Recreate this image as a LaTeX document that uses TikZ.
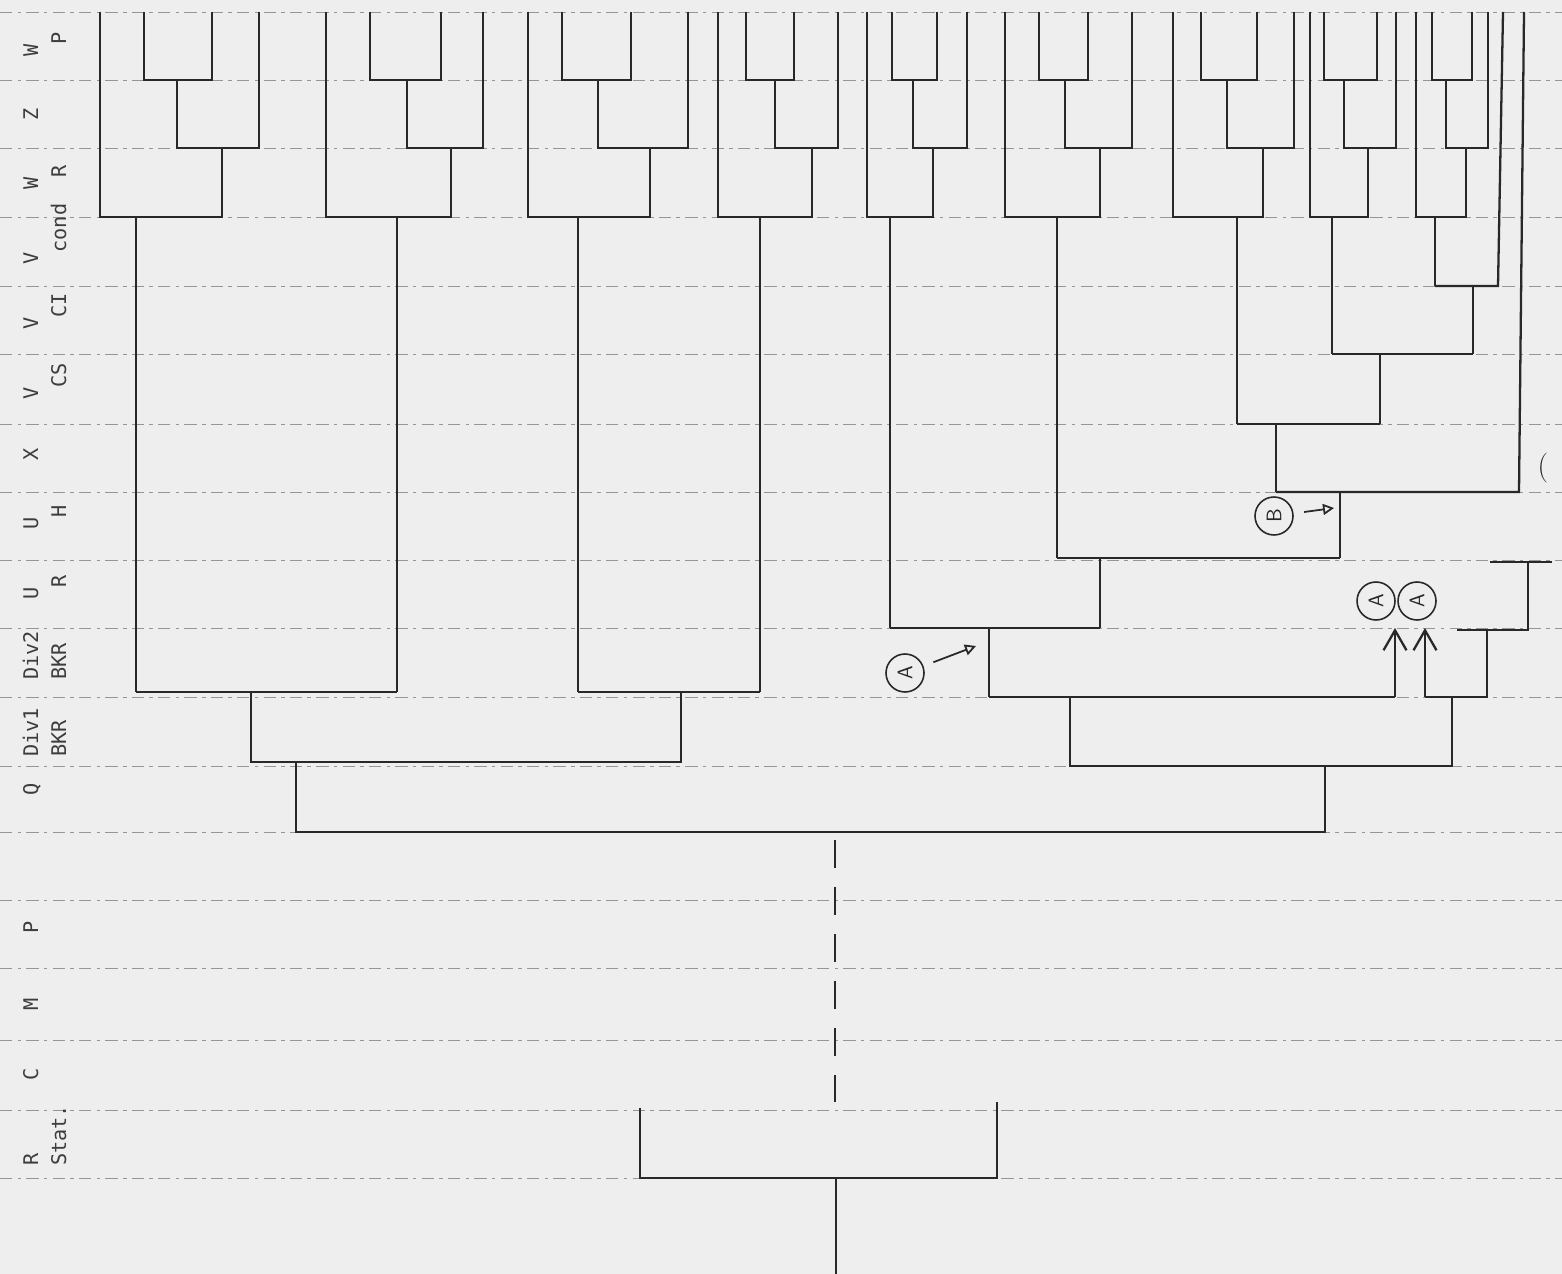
\documentclass[tikz,border=0pt]{standalone}
\usepackage{fontspec}
\setmonofont{DejaVu Sans Mono}
\usetikzlibrary{arrows.meta}
\definecolor{paper}{RGB}{238,238,238}
\definecolor{ink}{RGB}{40,40,40}
\definecolor{rule}{RGB}{150,150,150}
\newcommand\lowline[1]{\raisebox{-16pt}{#1}}
\newcommand\twoline[2]{\rlap{\raisebox{-16pt}{#2}}#1}

\begin{document}
\begin{tikzpicture}[
    x=0.02cm, y=-0.02cm,
    branch/.style={draw=ink, line width=1.3pt},
    guide/.style={draw=rule, line width=0.5pt, dash pattern=on 7pt off 3pt on 2pt off 3pt},
    event/.style={rotate=90, anchor=base west, inner sep=0pt, text=ink!90,
      font=\ttfamily\fontsize{11.5}{14}\selectfont},
    tag/.style={circle, draw=ink, line width=0.9pt, minimum size=0.76cm, inner sep=0pt,
      font=\sffamily\large, text=ink},
    pointer/.style={draw=ink, line width=1pt, shorten <=6pt, -{Triangle[open, length=2.2mm, width=2.2mm]}},
    transfer/.style={branch, -{Straight Barb[length=4mm, width=4.6mm]}}]
  \fill[paper] (0,0) rectangle (1562,1274);
  \useasboundingbox (0,0) rectangle (1562,1274);

  % event rows
  \foreach \yy in {12,80,148,217,286,354,424,492,560,628,697,766,832,900,968,1040,1110,1178}
    \draw[guide] (0,\yy) -- (1562,\yy);

  \node[event] (wp)    at (38,57)   {W\lowline{P}};
  \node[event] (z)     at (38,121)  {Z};
  \node[event] (wr)    at (38,190)  {W\lowline{R}};
  \node[event] (vcond) at (38,265)  {V\lowline{cond}};
  \node[event] (vci)   at (38,330)  {V\lowline{CI}};
  \node[event] (vcs)   at (38,400)  {V\lowline{CS}};
  \node[event] (xx)    at (38,461)  {X};
  \node[event] (uh)    at (38,530)  {U\lowline{H}};
  \node[event] (ur)    at (38,600)  {U\lowline{R}};
  \node[event] (div2)  at (38,680)  {\twoline{Div2}{BKR}};
  \node[event] (div1)  at (38,757)  {\twoline{Div1}{BKR}};
  \node[event] (q)     at (38,796)  {Q};
  \node[event] (p)     at (38,934)  {P};
  \node[event] (m)     at (38,1011) {M};
  \node[event] (c)     at (38,1081) {C};
  \node[event] (rstat) at (38,1166) {\twoline{R}{Stat.}};

  % upper sub-trees W_P, Z, W_R
  \foreach \lft/\pa/\pb/\jn/\rgt/\dn/\st/\en in {
      100/144/212/177/259/222/136/692, 326/370/441/407/483/451/397/692,
      528/562/631/598/688/650/578/692, 718/746/794/775/838/812/760/692,
      867/892/937/913/967/933/890/628, 1005/1039/1088/1065/1132/1100/1057/558,
      1173/1201/1257/1227/1294/1263/1237/424, 1310/1324/1377/1344/1396/1368/1332/354,
      1416/1432/1472/1446/1488/1466/1435/286}{
    \draw[branch] (\lft,12) |- (\dn,217) -- (\dn,148);
    \draw[branch] (\rgt,12) |- (\jn,148) -- (\jn,80);
    \draw[branch] (\pa,12) |- (\pb,80) -- (\pb,12);
    \draw[branch] (\st,217) -- (\st,\en);
  }

  % V_cond .. U_R
  \draw[branch] (1435,286) -- (1498,286) -- (1503,12);
  \draw[branch] (1473,286) -- (1473,354);
  \draw[branch] (1332,354) -- (1473,354);
  \draw[branch] (1380,354) -- (1380,424);
  \draw[branch] (1237,424) -- (1380,424);
  \draw[branch] (1276,424) -- (1276,492);
  \draw[branch] (1276,492) -- (1519,492) -- (1524,12);
  \draw[branch] (1340,492) -- (1340,558);
  \draw[branch] (1057,558) -- (1340,558);
  \draw[branch] (1100,558) -- (1100,628);
  \draw[branch] (890,628) -- (1100,628);
  \draw[branch] (989,628) -- (989,697);

  % Div2 BKR, Div1 BKR
  \draw[branch] (989,697) -- (1395,697);
  \draw[transfer] (1395,697) -- (1395,628);
  \draw[transfer] (1425,697) -- (1425,628);
  \draw[branch] (1425,697) -- (1487,697) -- (1487,630);
  \draw[branch] (1457,630) -- (1528,630) -- (1528,562);
  \draw[branch] (1490,562) -- (1552,562);
  \draw[branch] (1070,697) |- (1452,766) -- (1452,697);
  \draw[branch] (136,692) -- (397,692);
  \draw[branch] (578,692) -- (760,692);
  \draw[branch] (251,692) |- (681,762) -- (681,692);

  % Q and the stem
  \draw[branch] (296,762) |- (1325,832) -- (1325,766);
  \draw[branch, dash pattern=on 0.56cm off 0.38cm] (835,840) -- (835,1102);
  \draw[branch] (640,1108) |- (997,1178) -- (997,1102);
  \draw[branch] (836,1178) -- (836,1274);

  % transfer marks
  \node[tag] (tagA)  at (905,673)  {\rotatebox{90}{A}};
  \node[tag] (tagB)  at (1274,516) {\rotatebox{90}{B}};
  \node[tag] (tagA2) at (1376,601) {\rotatebox{90}{A}};
  \node[tag] (tagA3) at (1417,601) {\rotatebox{90}{A}};
  \coordinate (aimA) at (976,646);
  \coordinate (aimB) at (1334,508);
  \draw[pointer] (tagA) -- (aimA);
  \draw[pointer] (tagB) -- (aimB);
  \node[text=ink, font=\fontsize{17}{20}\selectfont] (paren) at (1543,468) {(};
\end{tikzpicture}
\end{document}
